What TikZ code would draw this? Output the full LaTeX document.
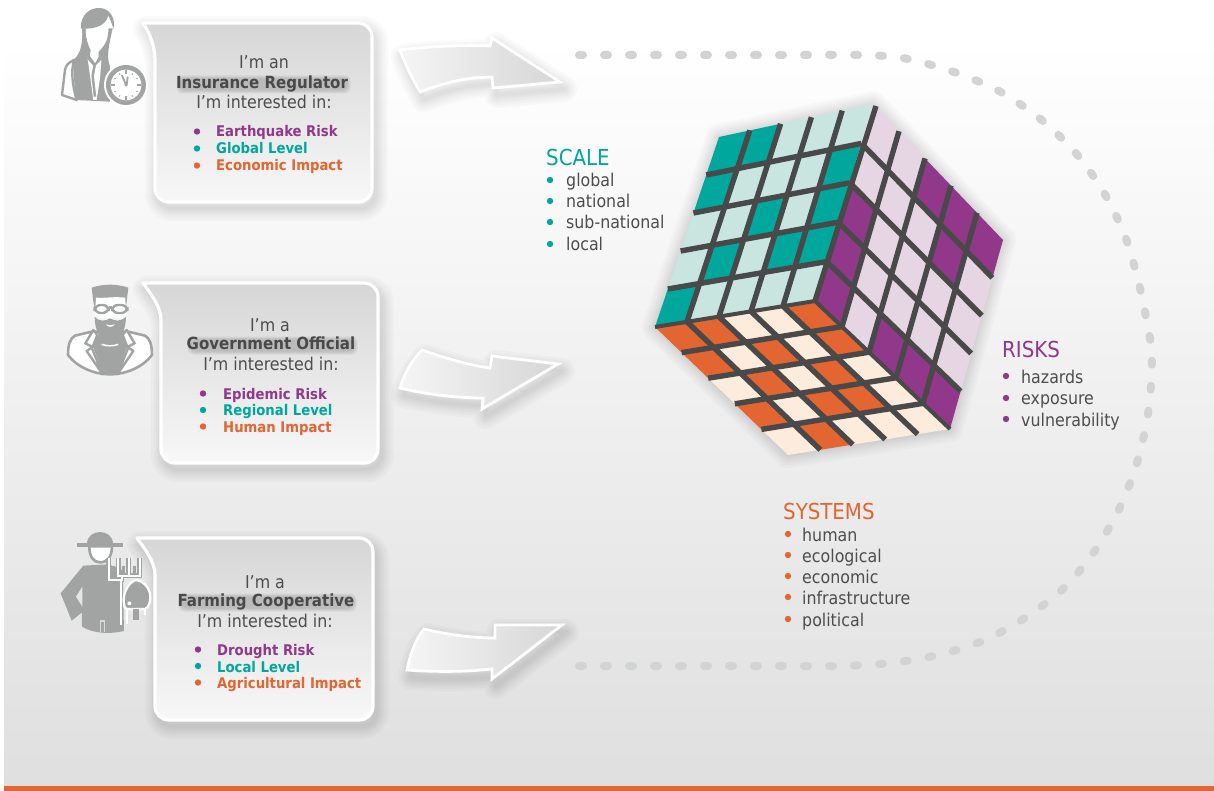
\documentclass[tikz,border=0pt]{standalone}
\usepackage{fontspec}
\setmainfont{DejaVu Sans Condensed}
\usetikzlibrary{calc}
\definecolor{tealc}{HTML}{00A79D}
\definecolor{teall}{HTML}{C8E6DF}
\definecolor{purpc}{HTML}{92388A}
\definecolor{purpl}{HTML}{E6D6E4}
\definecolor{orac}{HTML}{E36531}
\definecolor{oral}{HTML}{FDEBDC}
\definecolor{gridc}{HTML}{4A4949}
\definecolor{textc}{HTML}{4D4D4D}
\definecolor{icong}{HTML}{A2A4A4}
\definecolor{dotc}{HTML}{D2D4D4}
\tikzset{
  gridline/.style={gridc,line width=5.4pt},
  bubble/.style={top color=black!16,bottom color=black!3,draw=white,line width=3.2pt,line join=round},
  arrowshape/.style={left color=black!4,right color=black!16,draw=white,line width=2.8pt,line join=miter},
  dotline/.style={dotc,line width=8pt,line cap=round,dash pattern=on 4pt off 21pt},
  plain/.style={text=textc,font=\fontsize{17.6}{19}\selectfont,anchor=base west,inner sep=0pt,yshift=-1.5pt},
  head/.style={font=\fontsize{22}{24}\selectfont,anchor=base west,inner sep=0pt,yshift=-1pt},
  intro/.style={text=textc,font=\fontsize{17.6}{19}\selectfont,anchor=base,inner sep=0pt,yshift=-1pt},
  who/.style={text=gridc,font=\bfseries\fontsize{16.7}{19}\selectfont,anchor=base,inner sep=0pt,yshift=-.5pt},
  item/.style={font=\bfseries\fontsize{14.7}{16}\selectfont,anchor=base west,inner sep=0pt,yshift=-1pt},
  iconw/.style={fill=white,draw=icong,line width=2.4pt,line join=round},
}
\newcommand\softshadow[1]{%
  \foreach \w in {26,21,16,12,8,4}{\draw[black,opacity=.018,line width=\w pt,line join=round] #1;}}
\newcommand\halo[5]{% centre x, y, half width, half height, opacity
  \foreach \g in {4,2.5,1}{\fill[black,opacity=#5,rounded corners=6pt]
    ({#1+1.5-#3-\g},{#2+1.5-#4-\g}) rectangle ({#1+1.5+#3+\g},{#2+1.5+#4+\g});}}
\newcommand\bubblepath[5]{% tipx top left right bottom
  (#1,#2) -- ({#4-14},#2) .. controls ({#4-6},#2) and (#4,{#2+6}) .. (#4,{#2+14})
  -- (#4,{#5-14}) .. controls (#4,{#5-6}) and ({#4-6},#5) .. ({#4-14},#5)
  -- ({#3+14},#5) .. controls ({#3+6},#5) and (#3,{#5-6}) .. (#3,{#5-14})
  -- (#3,{#2+38}) .. controls (#3,{#2+22}) and ({#1+6},{#2+9}) .. (#1,#2) -- cycle}
\newcommand\cubeface[7]{%
  \foreach \rw [count=\rr from 0] in {#7} {
    \foreach \cv [count=\kk from 0] in \rw {
      \pgfmathsetmacro\ua{\kk/5}\pgfmathsetmacro\ub{(\kk+1)/5}
      \pgfmathsetmacro\va{\rr/5}\pgfmathsetmacro\vb{(\rr+1)/5}
      \ifnum\cv=1 \def\cc{#5}\else\def\cc{#6}\fi
      \fill[\cc] ($($(#1)!\ua!(#2)$)!\va!($(#4)!\ua!(#3)$)$)
        -- ($($(#1)!\ub!(#2)$)!\va!($(#4)!\ub!(#3)$)$)
        -- ($($(#1)!\ub!(#2)$)!\vb!($(#4)!\ub!(#3)$)$)
        -- ($($(#1)!\ua!(#2)$)!\vb!($(#4)!\ua!(#3)$)$) -- cycle;
    }}
  \foreach \ii in {1,...,4} {
    \pgfmathsetmacro\tt{\ii/5}
    \draw[gridline] ($(#1)!\tt!(#2)$) -- ($(#4)!\tt!(#3)$);
    \draw[gridline] ($(#1)!\tt!(#4)$) -- ($(#2)!\tt!(#3)$);
  }}
\newcommand\bul[3]{\fill[#3] (#1,#2) circle (3.2pt);}
\begin{document}
\begin{tikzpicture}[x=1pt,y=-1pt]
\useasboundingbox (0,0) rectangle (1214,791);
\fill[white] (0,0) rectangle (1214,791);
\shade[top color=white,bottom color=black!12.5] (4,40) rectangle (1214,786);
\fill[orac] (4,786) rectangle (1214,791);

% dotted loop
\draw[dotline] plot[smooth,tension=.5] coordinates {(579,55) (680,55) (780,55) (860,55) (903,58) (951,71) (997,90) (1038,117) (1074,151) (1103,191) (1125,236) (1139,284) (1149,333) (1152,358) (1149,407) (1139,456) (1122,503) (1098,546) (1067,585) (1028,616) (985,640) (938,655) (890,663) (840,666) (760,666) (660,666) (558,666)};

% arrows
\def\arrA{(400,50) .. controls (430,46) and (465,45) .. (490,46) -- (492,38) -- (560,82) -- (493,88) -- (492,77) .. controls (465,77) and (440,84) .. (420,92) .. controls (412,78) and (405,64) .. (400,50) -- cycle}
\def\arrB{(422,350) .. controls (445,358) and (468,365) .. (490,368) -- (492,356) -- (558,364) -- (482,409) -- (483,398) .. controls (455,398) and (425,394) .. (400,388) .. controls (405,372) and (412,360) .. (422,350) -- cycle}
\def\arrC{(424,629) .. controls (445,634) and (470,638) .. (495,638) -- (495,625) -- (562,625) -- (492,679) -- (492,669) .. controls (465,672) and (435,672) .. (407,670) .. controls (410,655) and (415,640) .. (424,629) -- cycle}
\begin{scope}[shift={(4,7)}]\softshadow{\arrA}\softshadow{\arrB}\softshadow{\arrC}\end{scope}
\shade[arrowshape] \arrA;
\shade[arrowshape] \arrB;
\shade[arrowshape] \arrC;

% bubbles
\def\bubA{\bubblepath{143}{23}{155}{372}{202}}
\def\bubB{\bubblepath{143}{283}{161}{378}{463}}
\def\bubC{\bubblepath{137}{538}{155}{373}{720}}
\begin{scope}[shift={(3,6)}]\softshadow{\bubA}\softshadow{\bubB}\softshadow{\bubC}\end{scope}
\shade[bubble] \bubA;
\shade[bubble] \bubB;
\shade[bubble] \bubC;

% --- bubble 1 text
\halo{262}{83}{83}{5}{.06}
\node[intro] (a1) at (264,68) {I’m an};
\node[who] (a2) at (262,88) {Insurance Regulator};
\node[intro] (a3) at (264,108) {I’m interested in:};
\bul{197}{131.5}{purpc}\bul{197}{148.5}{tealc}\bul{197}{165.5}{orac}
\node[item,text=purpc] (a4) at (216,136) {Earthquake Risk};
\node[item,text=tealc] (a5) at (216,153) {Global Level};
\node[item,text=orac] (a6) at (216,170) {Economic Impact};
% --- bubble 2 text
\halo{271}{344}{81}{5}{.06}
\node[intro] (b1) at (270,330) {I’m a};
\node[who] (b2) at (271,349) {Government Official};
\node[intro] (b3) at (271,369) {I’m interested in:};
\bul{203}{393.5}{purpc}\bul{203}{410}{tealc}\bul{203}{426.5}{orac}
\node[item,text=purpc] (b4) at (223,398) {Epidemic Risk};
\node[item,text=tealc] (b5) at (223,414) {Regional Level};
\node[item,text=orac] (b6) at (223,431) {Human Impact};
% --- bubble 3 text
\halo{266}{601}{85}{5}{.06}
\node[intro] (c1) at (265,587) {I’m a};
\node[who] (c2) at (266,606) {Farming Cooperative};
\node[intro] (c3) at (265,626) {I’m interested in:};
\bul{198}{649.5}{purpc}\bul{198}{666}{tealc}\bul{198}{682.5}{orac}
\node[item,text=purpc] (c4) at (217,654) {Drought Risk};
\node[item,text=tealc] (c5) at (217,671) {Local Level};
\node[item,text=orac] (c6) at (217,687) {Agricultural Impact};

% --- icon 1: regulator
\begin{scope}[xshift=50pt,yshift=0pt,x=.3333pt,y=-.3333pt]
  \fill[icong] (96,85) .. controls (100,130) and (90,165) .. (70,180) -- (75,300) -- (180,305) -- (180,200) .. controls (168,170) and (178,130) .. (188,85) -- cycle;
  \draw[iconw] (72,180) .. controls (55,188) and (48,195) .. (45,210) -- (36,285) -- (80,300) .. controls (68,260) and (62,215) .. (72,180) -- cycle;
  \fill[white] (108,84) -- (172,60) .. controls (178,70) and (176,100) .. (170,120) .. controls (162,140) and (150,150) .. (146,155) -- (146,170) -- (136,190) -- (120,168) -- (122,150) .. controls (112,130) and (106,110) .. (108,84) -- cycle;
  \fill[icong] (93,86) .. controls (90,45) and (120,22) .. (150,24) .. controls (180,26) and (198,55) .. (190,88) .. controls (188,78) and (184,66) .. (175,46) .. controls (168,75) and (140,88) .. (93,86) -- cycle;
  \fill[white] (112,170) -- (135,195) -- (155,172) -- (150,235) -- (140,300) -- (130,300) -- (122,240) -- cycle;
  \draw[icong,line width=2pt] (112,172) -- (133,196) -- (155,174);
  \draw[icong,line width=2.5pt] (134,196) -- (128,228) -- (135,290);
  \fill[white] (228,255) circle (66);
  \fill[icong] (228,255) circle (60);
  \fill[white] (228,255) circle (46);
  \foreach \a in {0,90,180,270}{\draw[icong,line width=2.6pt] (228,255) ++(\a:46) -- ++(\a+180:12);}
  \foreach \a in {30,60,120,150,210,240,300,330}{\fill[icong] (228,255) ++(\a:38) circle (2.5);}
  \draw[icong,line width=1.8pt,line cap=round] (228,255) -- (216,226);
  \draw[icong,line width=1.8pt,line cap=round] (230,255) -- (233,232);
  \fill[icong] (228,255) circle (5);
\end{scope}

% --- icon 2: official
\begin{scope}[xshift=60pt,yshift=-275pt,x=.3333pt,y=-.3333pt]
  \draw[iconw,line width=2.6pt] (24,240) .. controls (24,210) and (30,190) .. (45,182) -- (95,170) -- (205,170) -- (255,182) .. controls (270,190) and (276,210) .. (276,240) .. controls (250,275) and (200,298) .. (150,298) .. controls (100,298) and (50,275) .. (24,240) -- cycle;
  \fill[icong] (112,180) -- (188,180) -- (205,205) -- (172,297) -- (130,297) -- (95,205) -- cycle;
  \draw[white,line width=1.5pt] (125,208) .. controls (140,214) and (160,214) .. (175,208);
  \draw[iconw,line width=2.4pt] (100,165) -- (76,205) -- (98,216) -- (80,228) -- (128,298) -- (96,220) -- (112,180) -- cycle;
  \draw[iconw,line width=2.4pt] (200,165) -- (224,205) -- (202,216) -- (220,228) -- (172,298) -- (204,220) -- (188,180) -- cycle;
  \fill[icong] (95,38) .. controls (130,26) and (170,26) .. (205,38) -- (200,80) -- (198,100) -- (104,100) -- (100,80) -- cycle;
  \fill[white] (108,68) .. controls (140,70) and (160,64) .. (196,68) -- (198,130) -- (104,130) -- cycle;
  \fill[icong] (104,125) .. controls (120,142) and (135,138) .. (150,130) .. controls (165,138) and (180,142) .. (198,125) .. controls (198,170) and (175,208) .. (150,208) .. controls (125,208) and (104,170) .. (104,125) -- cycle;
  \fill[white] (138,148) .. controls (146,152) and (156,152) .. (164,148) .. controls (160,158) and (142,158) .. (138,148) -- cycle;
  \draw[icong,line width=2.4pt,fill=white,rounded corners=6pt] (104,90) rectangle (146,114);
  \draw[icong,line width=2.4pt,fill=white,rounded corners=6pt] (156,90) rectangle (202,114);
  \draw[icong,line width=2.4pt] (146,97) -- (156,97);
\end{scope}

% --- icon 3: farmer
\begin{scope}[xshift=50pt,yshift=-525pt,x=.3333pt,y=-.3333pt]
  \fill[icong] (100,122) -- (175,118) -- (218,135) -- (222,318) .. controls (180,328) and (130,326) .. (96,305) -- (96,262) -- (65,287) -- (32,205) -- cycle;
  \fill[white!90!black] (97,185) -- (78,215) -- (97,245) -- cycle;
  \draw[white!85!black,line width=1.6pt] (152,322) -- (152,288) -- (163,288) -- (163,322);
  \draw[icong,line width=2.6pt,fill=white] (118,64) .. controls (118,95) and (130,112) .. (150,112) .. controls (172,112) and (186,95) .. (186,64) -- cycle;
  \fill[icong] (110,56) .. controls (110,10) and (190,10) .. (190,56) -- cycle;
  \fill[icong] (82,55) rectangle (218,66);
  \foreach \xx in {190,222,255}{\draw[icong,line width=3pt] (\xx,122) -- (\xx,148);}
  \draw[icong,line width=5pt] (177,100) -- (177,165) -- (215,165) -- (215,152);
  \draw[icong,line width=5pt] (205,100) -- (205,152) -- (270,152) -- (270,100);
  \draw[icong,line width=5pt] (237,100) -- (237,152);
  \draw[white,line width=2.2pt] (177,100) -- (177,165) -- (215,165) -- (215,152);
  \draw[white,line width=2.2pt] (205,100) -- (205,152) -- (270,152) -- (270,100);
  \draw[white,line width=2.2pt] (237,100) -- (237,152);
  \draw[white,line width=2.2pt] (212,165) -- (212,300);
  \draw[white,line width=2.2pt,fill=icong] (258,165) .. controls (240,170) and (222,195) .. (221,225) .. controls (222,240) and (222,250) .. (232,252) -- (285,252) .. controls (298,248) and (303,225) .. (300,205) .. controls (295,185) and (280,168) .. (258,165) -- cycle;
  \fill[white] (238,235) circle (6);
  \fill[icong] (250,252) rectangle (268,285);
  \draw[white,line width=2pt] (232,252) -- (232,296);
  \draw[white,line width=2pt] (285,252) -- (285,270);
\end{scope}

% --- cube
\coordinate (ta) at (719,137);
\coordinate (tb) at (873,104);
\coordinate (vv) at (815,301);
\coordinate (td) at (655,327);
\coordinate (pr) at (1003,240);
\coordinate (pb) at (950,429);
\coordinate (ob) at (788,455);
\begin{scope}[shift={(7,8)}]\softshadow{(ta) -- (tb) -- (pr) -- (pb) -- (ob) -- (td) -- cycle}\end{scope}
\cubeface{ta}{tb}{vv}{td}{tealc}{teall}{{1,1,0,0,0},{1,0,0,0,1},{0,0,1,0,1},{0,1,0,1,1},{1,0,0,0,0}}
\cubeface{tb}{pr}{pb}{vv}{purpc}{purpl}{{0,0,1,1,1},{0,0,0,1,0},{1,0,0,0,0},{1,0,0,0,0},{1,0,1,1,1}}
\cubeface{td}{vv}{pb}{ob}{orac}{oral}{{1,1,0,0,1},{1,0,1,0,1},{0,1,0,1,0},{1,0,1,1,0},{0,1,0,0,0}}
\draw[gridline] (876,106) -- (vv);
\draw[gridline,line width=4pt] (td) -- (vv) -- (pb);

% --- labels
\node[head,text=tealc] (s0) at (546,165) {SCALE};
\node[plain] (s1) at (566,185) {global};
\node[plain] (s2) at (566,206) {national};
\node[plain] (s3) at (566,227) {sub-national};
\node[plain] (s4) at (566,249) {local};
\foreach \yy in {180,201,222,244}{\bul{550}{\yy}{tealc}}
\node[head,text=purpc] (r0) at (1002,356) {RISKS};
\node[plain] (r1) at (1021,382) {hazards};
\node[plain] (r2) at (1021,403) {exposure};
\node[plain] (r3) at (1021,425) {vulnerability};
\foreach \yy in {376,398,419}{\bul{1006}{\yy}{purpc}}
\node[head,text=orac] (y0) at (783,518) {SYSTEMS};
\node[plain] (y1) at (802,540) {human};
\node[plain] (y2) at (802,561) {ecological};
\node[plain] (y3) at (802,582) {economic};
\node[plain] (y4) at (802,603) {infrastructure};
\node[plain] (y5) at (802,625) {political};
\foreach \yy in {534,555,576,597,619}{\bul{788}{\yy}{orac}}
\end{tikzpicture}
\end{document}
